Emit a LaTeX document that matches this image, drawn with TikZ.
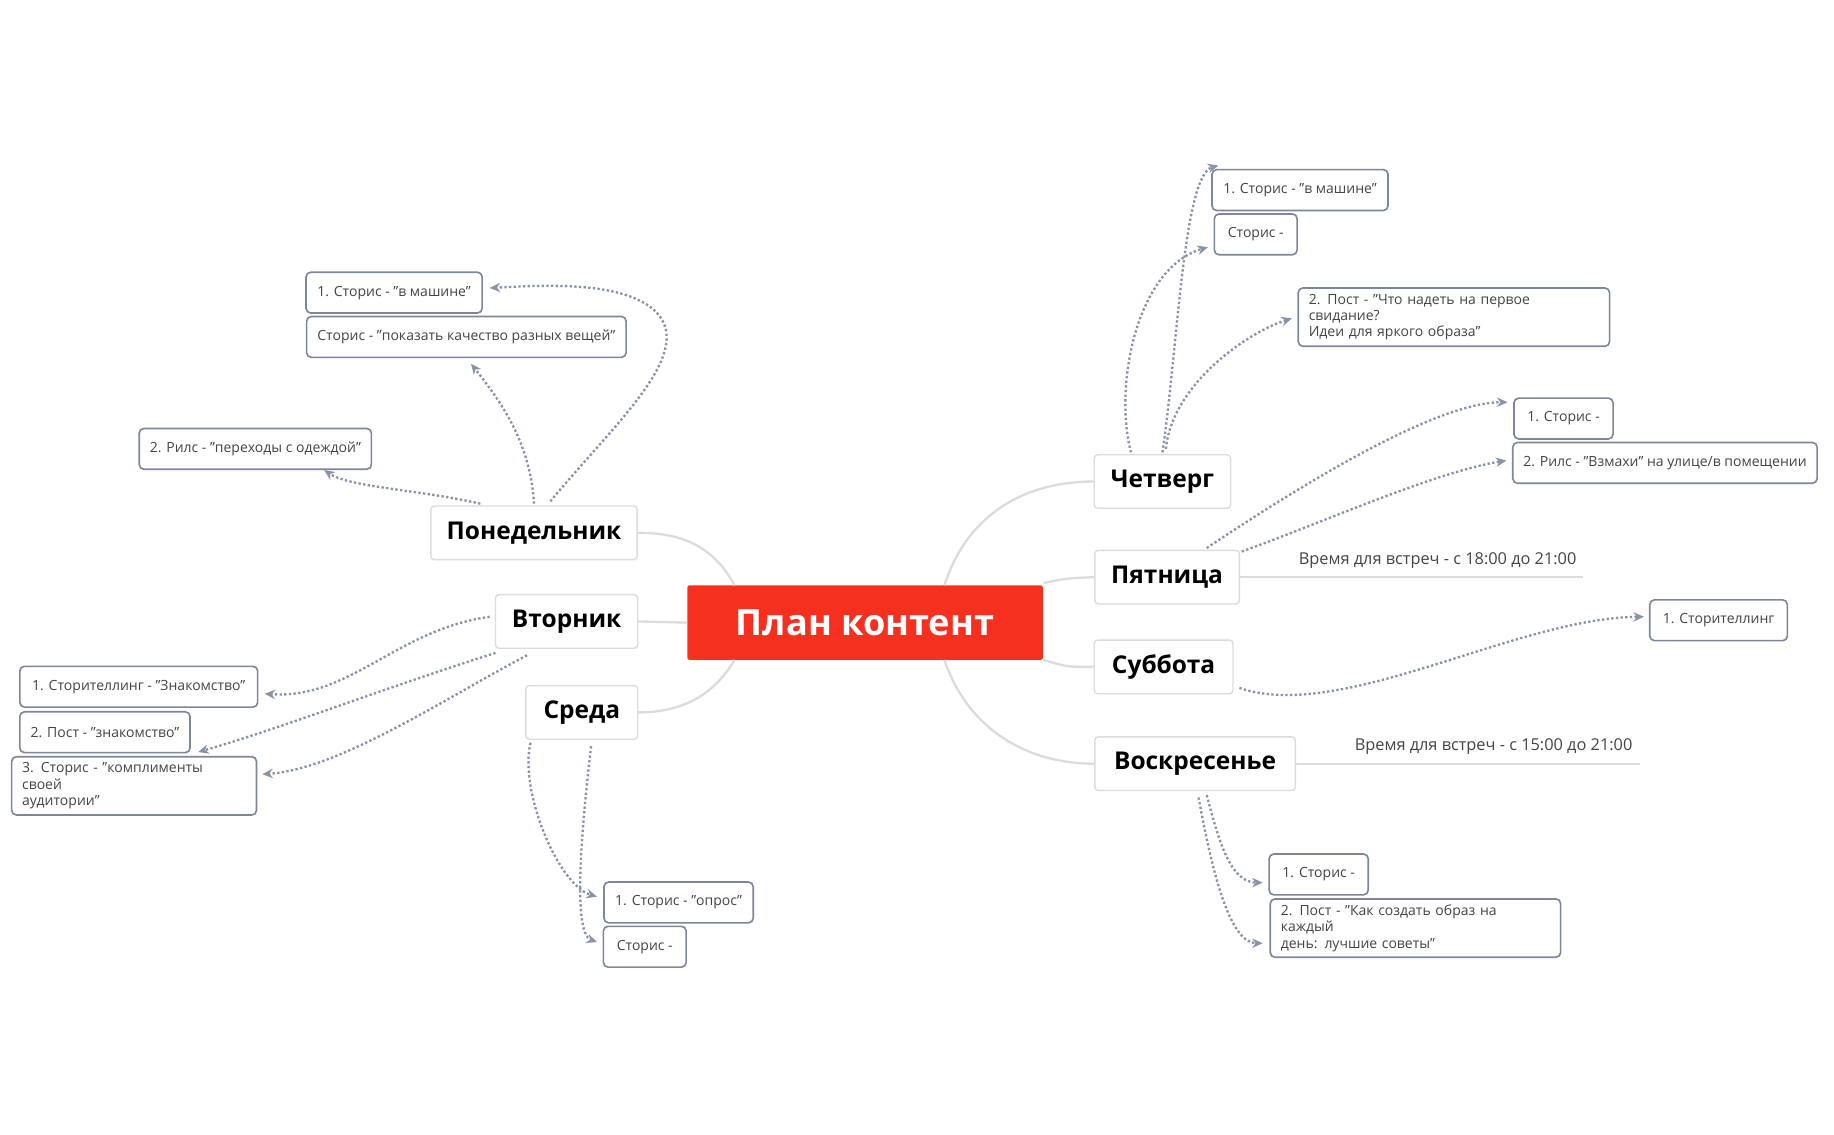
\documentclass[tikz,border=0pt]{standalone}
\usepackage{fontspec}
\setmainfont{Open Sans}
\usetikzlibrary{arrows.meta}
\definecolor{tred}{HTML}{F5301E}
\definecolor{ag}{HTML}{8A92A6}
\definecolor{bg}{HTML}{7E8699}
\definecolor{lg}{HTML}{DCDCDC}
\definecolor{tx}{HTML}{444444}
\begin{document}
\begin{tikzpicture}[x=1pt,y=-1pt,
 sb/.style={draw=bg,line width=1.4pt,rounded corners=4pt,fill=white,text=tx,font=\fontsize{12}{14}\selectfont,align=left,minimum height=35pt,inner xsep=9pt},
 day/.style={draw=lg,line width=1.2pt,rounded corners=3pt,fill=white,font=\fontsize{21}{24}\selectfont\bfseries,minimum height=46pt},
 arr/.style={draw=ag,line width=2pt,dotted,-{Stealth[length=9pt,width=8pt]}},
 br/.style={draw=lg,line width=2pt}]
\useasboundingbox (0,0) rectangle (1573,973);
\node[fill=tred,rounded corners=2pt,minimum width=305pt,minimum height=64pt,text=white,font=\fontsize{31}{36}\selectfont\bfseries] (t) at (742,534) {План контент};
\node[day,minimum width=177pt] (mon) at (458,457) {Понедельник};
\node[day,minimum width=122pt] (tue) at (486,533) {Вторник};
\node[day,minimum width=96pt] (wed) at (499,611) {Среда};
\node[day,minimum width=117pt] (thu) at (997,413) {Четверг};
\node[day,minimum width=124pt] (fri) at (1001,495) {Пятница};
\node[day,minimum width=119pt] (sat) at (998,572) {Суббота};
\node[day,minimum width=172pt] (sun) at (1025,655) {Воскресенье};
\begin{scope}[on background layer/.style={}]
\draw[br] (630,502) .. controls (610,465) and (580,457) .. (mon.east);
\draw[br] (t.west) -- (tue.east);
\draw[br] (630,566) .. controls (610,600) and (580,611) .. (wed.east);
\draw[br] (810,502) .. controls (830,440) and (880,413) .. (thu.west);
\draw[br] (895,500) .. controls (915,496) .. (fri.west);
\draw[br] (895,566) .. controls (915,572) .. (sat.west);
\draw[br] (810,566) .. controls (830,625) and (880,655) .. (sun.west);
\end{scope}
% Monday
\node[sb,minimum width=151pt] (m1) at (338,251) {1. Сторис - "в машине"};
\node[sb,minimum width=274pt] (m2) at (400,289) {Сторис - "показать качество разных вещей"};
\node[sb,minimum width=199pt] (m3) at (219,385) {2. Рилс - "переходы с одеждой"};
\coordinate (ma) at (412,432); \coordinate (mb) at (458,432); \coordinate (mc) at (472,430);
\draw[arr] (ma) .. controls (360,420) and (300,418) .. (m3.south east -| 278,405);
\draw[arr] (mb) .. controls (455,380) and (430,345) .. (404,312);
\draw[arr] (mc) .. controls (530,360) and (600,300) .. (560,265) .. controls (530,240) and (460,245) .. (420,247);
% Tuesday
\node[sb,minimum width=204pt] (u1) at (119,589) {1. Сторителлинг - "Знакомство"};
\node[sb,minimum width=146pt] (u2) at (90,628) {2. Пост - "знакомство"};
\node[sb,minimum width=210pt,minimum height=50pt,text width=192pt] (u3) at (115,674) {3. Сторис - "комплименты своей\\ аудитории"};
\draw[arr] (420,529) .. controls (340,540) and (300,600) .. (227,595);
\draw[arr] (425,560) .. controls (330,590) and (240,625) .. (170,645);
\draw[arr] (452,562) .. controls (380,600) and (290,660) .. (225,664);
% Wednesday
\node[sb,minimum width=128pt] (w1) at (582,774) {1. Сторис - "опрос"};
\node[sb,minimum width=71pt] (w2) at (553,812) {Сторис -};
\draw[arr] (455,637) .. controls (445,680) and (480,760) .. (512,769);
\draw[arr] (507,640) .. controls (500,700) and (490,800) .. (512,808);
% Thursday
\node[sb,minimum width=151pt] (h1) at (1115,163) {1. Сторис - "в машине"};
\node[sb,minimum width=71pt] (h2) at (1077,201) {Сторис -};
\node[sb,minimum width=267pt,minimum height=50pt,text width=249pt] (h3) at (1247,272) {2. Пост - "Что надеть на первое свидание?\\ Идеи для яркого образа"};
\draw[arr] (997,388) .. controls (1010,300) and (1015,150) .. (1045,142);
\draw[arr] (970,388) .. controls (955,330) and (975,230) .. (1036,212);
\draw[arr] (1000,385) .. controls (1005,330) and (1070,285) .. (1108,273);
% Friday
\node[sb,minimum width=85pt] (f1) at (1341,359) {1. Сторис -};
\node[sb,minimum width=261pt] (f2) at (1428,397) {2. Рилс - "Взмахи" на улице/в помещении};
\draw[arr] (1035,470) .. controls (1110,420) and (1230,345) .. (1293,345);
\draw[arr] (1065,473) .. controls (1130,450) and (1230,405) .. (1292,395);
\node[text=tx,font=\fontsize{14}{16}\selectfont] (ft) at (1233,481) {Время для встреч - с 18:00 до 21:00};
\draw[br,line width=1.4pt] (fri.east |- 0,495) -- (1358,495);
% Saturday
\node[sb,minimum width=118pt] (s1) at (1474,532) {1. Сторителлинг};
\draw[arr] (1063,590) .. controls (1150,620) and (1300,530) .. (1410,529);
% Sunday
\node[text=tx,font=\fontsize{14}{16}\selectfont] (st) at (1281,640) {Время для встреч - с 15:00 до 21:00};
\draw[br,line width=1.4pt] (sun.east |- 0,655) -- (1407,655);
\node[sb,minimum width=85pt] (n1) at (1131,750) {1. Сторис -};
\node[sb,minimum width=249pt,minimum height=50pt,text width=231pt] (n2) at (1214,796) {2. Пост - "Как создать образ на каждый\\ день: лучшие советы"};
\draw[arr] (1035,682) .. controls (1045,720) and (1055,757) .. (1083,757);
\draw[arr] (1028,684) .. controls (1040,750) and (1055,809) .. (1083,809);
\end{tikzpicture}
\end{document}
